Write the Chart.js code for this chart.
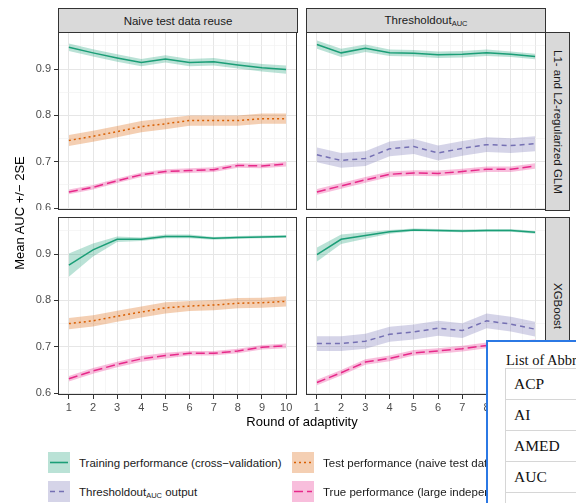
<!DOCTYPE html>
<html>
<head>
<meta charset="utf-8">
<script src="https://cdn.jsdelivr.net/npm/chart.js@4.4.1/dist/chart.umd.min.js"></script>
<style>
  body { margin: 0; width: 576px; height: 503px; overflow: hidden; background: #fff; position: relative;
         font-family: "Liberation Sans", Arial, sans-serif; }
  canvas { position: absolute; }
  .strip { position: absolute; background: #d9d9d9; border: 1px solid #333; box-sizing: border-box;
           color: #1a1a1a; font-size: 11.5px; display: flex; align-items: center; justify-content: center; }
  .vstrip { writing-mode: vertical-rl; }
  .strip sub { font-size: 7.5px; vertical-align: -2px; }
  .title { position: absolute; font-size: 13px; color: #000; text-align: center; line-height: 16px; white-space: nowrap; }
  .key { position: absolute; width: 22px; height: 21px; }
  .key svg { display: block; }
  .ltxt { position: absolute; font-size: 11.5px; color: #1a1a1a; line-height: 14px; white-space: nowrap; }
  .ltxt sub { font-size: 7.5px; vertical-align: -2px; }
  #overlay { position: absolute; left: 486px; top: 340px; width: 120px; height: 200px; background: #fff;
             border: 2px solid #2b78e4; box-sizing: border-box; font-family: "Liberation Serif", "Times New Roman", serif; }
  #overlay .cap { position: absolute; left: 18px; top: 10px; font-size: 14.5px; color: #111; white-space: nowrap; }
  #overlay table { position: absolute; left: 17px; top: 26px; border-collapse: collapse; width: 300px; }
  #overlay td { border: 1px solid #d6d6d6; height: 30px; padding: 0 0 0 8px; font-size: 15.5px; color: #111; }
</style>
</head>
<body>

<canvas id="glmNaive" width="297" height="178" style="left:0;top:32px"></canvas>
<canvas id="glmThr" width="240" height="178" style="left:306px;top:32px"></canvas>
<canvas id="xgbNaive" width="297" height="208" style="left:0;top:217px"></canvas>
<canvas id="xgbThr" width="240" height="208" style="left:306px;top:217px"></canvas>

<div class="strip" style="left:58px;top:8px;width:240px;height:25px"><span>Naive test data reuse</span></div>
<div class="strip" style="left:306px;top:8px;width:240px;height:25px"><span>Thresholdout<sub>AUC</sub></span></div>
<div class="strip vstrip" style="left:545px;top:32px;width:25px;height:179px">L1- and L2-regularized GLM</div>
<div class="strip vstrip" style="left:545px;top:217px;width:25px;height:179px">XGBoost</div>

<div class="title" style="left:-80px;top:205px;width:200px;transform:rotate(-90deg)">Mean AUC +/− 2SE</div>
<div class="title" style="left:202px;top:414px;width:200px">Round of adaptivity</div>

<div id="legend"></div>

<div id="overlay">
  <div class="cap">List of Abbreviations</div>
  <table>
    <tr><td>ACP</td></tr>
    <tr><td>AI</td></tr>
    <tr><td>AMED</td></tr>
    <tr><td>AUC</td></tr>
    <tr><td>CNN</td></tr>
  </table>
</div>

<script>
// rounds of adaptivity (x axis)
const rounds = [1, 2, 3, 4, 5, 6, 7, 8, 9, 10];
const xMajor = [1, 2, 3, 4, 5, 6, 7, 8, 9, 10];
const yMajor = [0.6, 0.7, 0.8, 0.9];
const yMinor = [0.65, 0.75, 0.85, 0.95];

// L1/L2 GLM - naive test data reuse
const glmNaiveTrain   = [0.947, 0.935, 0.924, 0.914, 0.922, 0.914, 0.916, 0.909, 0.903, 0.899];
const glmNaiveTrainSE = [0.008, 0.008, 0.008, 0.008, 0.008, 0.008, 0.008, 0.008, 0.008, 0.009];
const glmNaiveTest    = [0.746, 0.755, 0.765, 0.776, 0.782, 0.789, 0.789, 0.789, 0.793, 0.793];
const glmNaiveTestSE  = [0.012, 0.012, 0.012, 0.012, 0.012, 0.011, 0.011, 0.011, 0.011, 0.011];
const glmNaiveTrue    = [0.635, 0.645, 0.659, 0.672, 0.679, 0.681, 0.683, 0.692, 0.691, 0.695];
const glmNaiveTrueSE  = [0.005, 0.005, 0.005, 0.005, 0.005, 0.005, 0.005, 0.005, 0.005, 0.005];

// L1/L2 GLM - Thresholdout
const glmThrTrain   = [0.953, 0.935, 0.945, 0.935, 0.934, 0.931, 0.932, 0.935, 0.932, 0.927];
const glmThrTrainSE = [0.009, 0.009, 0.008, 0.007, 0.007, 0.007, 0.007, 0.007, 0.006, 0.006];
const glmThrOut     = [0.715, 0.703, 0.707, 0.728, 0.733, 0.719, 0.729, 0.737, 0.735, 0.739];
const glmThrOutSE   = [0.016, 0.016, 0.016, 0.016, 0.016, 0.016, 0.016, 0.016, 0.016, 0.016];
const glmThrTrue    = [0.635, 0.648, 0.661, 0.673, 0.676, 0.675, 0.679, 0.684, 0.684, 0.691];
const glmThrTrueSE  = [0.006, 0.006, 0.006, 0.006, 0.006, 0.006, 0.006, 0.006, 0.006, 0.006];

// XGBoost - naive test data reuse
const xgbNaiveTrain   = [0.876, 0.909, 0.932, 0.932, 0.938, 0.938, 0.934, 0.936, 0.937, 0.938];
const xgbNaiveTrainSE = [0.025, 0.014, 0.006, 0.004, 0.004, 0.004, 0.003, 0.003, 0.003, 0.003];
const xgbNaiveTest    = [0.750, 0.756, 0.766, 0.775, 0.784, 0.788, 0.790, 0.794, 0.795, 0.798];
const xgbNaiveTestSE  = [0.012, 0.012, 0.012, 0.012, 0.012, 0.011, 0.011, 0.011, 0.011, 0.011];
const xgbNaiveTrue    = [0.631, 0.648, 0.662, 0.674, 0.681, 0.686, 0.686, 0.691, 0.699, 0.702];
const xgbNaiveTrueSE  = [0.006, 0.006, 0.006, 0.006, 0.006, 0.005, 0.005, 0.005, 0.005, 0.005];

// XGBoost - Thresholdout
const xgbThrTrain   = [0.899, 0.932, 0.940, 0.948, 0.952, 0.951, 0.950, 0.951, 0.951, 0.947];
const xgbThrTrainSE = [0.015, 0.010, 0.007, 0.004, 0.003, 0.003, 0.003, 0.003, 0.003, 0.003];
const xgbThrOut     = [0.707, 0.707, 0.712, 0.727, 0.732, 0.740, 0.735, 0.756, 0.749, 0.738];
const xgbThrOutSE   = [0.016, 0.016, 0.016, 0.016, 0.016, 0.016, 0.016, 0.016, 0.016, 0.016];
const xgbThrTrue    = [0.623, 0.644, 0.667, 0.675, 0.687, 0.691, 0.696, 0.703, 0.706, 0.710];
const xgbThrTrueSE  = [0.006, 0.006, 0.006, 0.006, 0.006, 0.006, 0.006, 0.006, 0.006, 0.006];

const colTrain = "#1b9e77", colTest = "#d95f02", colThr = "#7570b3", colTrue = "#e7298a";
const dashTrain = [], dashTest = [2, 3], dashThr = [5, 4], dashTrue = [9, 4];

function fade(hex, a) {
  const n = parseInt(hex.slice(1), 16);
  return `rgba(${n >> 16},${(n >> 8) & 255},${n & 255},${a})`;
}

// three datasets per series: lower bound, upper bound (filled to lower), mean line
function serie(means, se, color, dash) {
  const pts = (f) => rounds.map((r, i) => ({ x: r, y: f(i) }));
  return [
    { data: pts(i => means[i] - se[i]), borderWidth: 0, pointRadius: 0, fill: false, order: 1 },
    { data: pts(i => means[i] + se[i]), borderWidth: 0, pointRadius: 0, fill: "-1",
      backgroundColor: fade(color, 0.3), order: 1 },
    { data: pts(i => means[i]), borderColor: color, borderWidth: 1.5, borderDash: dash,
      pointRadius: 0, fill: false, tension: 0, order: 0 }
  ];
}

const frame = {
  id: "frame",
  afterDraw(chart) {
    const a = chart.chartArea, c = chart.ctx;
    c.save();
    c.strokeStyle = "#333";
    c.lineWidth = 1;
    c.strokeRect(Math.round(a.left) + 0.5, Math.round(a.top) + 0.5,
                 Math.round(a.right - a.left) - 1, Math.round(a.bottom - a.top) - 1);
    c.restore();
  }
};

const isMajorX = v => xMajor.includes(v);
const isMajorY = v => yMajor.some(m => Math.abs(m - v) < 1e-6);

function panel(id, datasets, showX, showY) {
  new Chart(document.getElementById(id), {
    type: "line",
    data: { datasets: datasets },
    plugins: [frame],
    options: {
      responsive: false,
      animation: false,
      layout: { padding: 0 },
      plugins: { legend: { display: false }, tooltip: { enabled: false } },
      scales: {
        x: {
          type: "linear", min: 0.55, max: 10.45,
          afterBuildTicks(s) {
            const t = [];
            for (let v = 1; v <= 10; v += 0.5) t.push({ value: v });
            s.ticks = t;
          },
          afterFit(s) { s.height = showX ? 30 : 0; s.paddingLeft = 0; s.paddingRight = 0; },
          border: { display: false },
          grid: {
            color: c => isMajorX(c.tick.value) ? "#e6e6e6" : "#f0f0f0",
            lineWidth: c => isMajorX(c.tick.value) ? 1 : 0.6,
            drawTicks: showX, tickLength: 4,
            tickColor: c => isMajorX(c.tick.value) ? "#333" : "rgba(0,0,0,0)"
          },
          ticks: {
            display: showX, autoSkip: false, maxRotation: 0, padding: 2,
            color: "#4d4d4d", font: { family: "Liberation Sans", size: 11 },
            callback: v => isMajorX(v) ? String(v) : ""
          }
        },
        y: {
          type: "linear", min: 0.596, max: 0.98,
          afterBuildTicks(s) {
            s.ticks = yMajor.concat(yMinor).sort((a, b) => a - b).map(v => ({ value: v }));
          },
          afterFit(s) { s.width = showY ? 58 : 0; s.paddingTop = 0; s.paddingBottom = 0; },
          border: { display: false },
          grid: {
            color: c => isMajorY(c.tick.value) ? "#e6e6e6" : "#f0f0f0",
            lineWidth: c => isMajorY(c.tick.value) ? 1 : 0.6,
            drawTicks: showY, tickLength: 4,
            tickColor: c => isMajorY(c.tick.value) ? "#333" : "rgba(0,0,0,0)"
          },
          ticks: {
            display: showY, autoSkip: false, padding: 3,
            color: "#4d4d4d", font: { family: "Liberation Sans", size: 11 },
            callback: v => isMajorY(v) ? v.toFixed(1) : ""
          }
        }
      }
    }
  });
}

panel("glmNaive", [
  ...serie(glmNaiveTrain, glmNaiveTrainSE, colTrain, dashTrain),
  ...serie(glmNaiveTest, glmNaiveTestSE, colTest, dashTest),
  ...serie(glmNaiveTrue, glmNaiveTrueSE, colTrue, dashTrue)
], false, true);

panel("glmThr", [
  ...serie(glmThrTrain, glmThrTrainSE, colTrain, dashTrain),
  ...serie(glmThrOut, glmThrOutSE, colThr, dashThr),
  ...serie(glmThrTrue, glmThrTrueSE, colTrue, dashTrue)
], false, false);

panel("xgbNaive", [
  ...serie(xgbNaiveTrain, xgbNaiveTrainSE, colTrain, dashTrain),
  ...serie(xgbNaiveTest, xgbNaiveTestSE, colTest, dashTest),
  ...serie(xgbNaiveTrue, xgbNaiveTrueSE, colTrue, dashTrue)
], true, true);

panel("xgbThr", [
  ...serie(xgbThrTrain, xgbThrTrainSE, colTrain, dashTrain),
  ...serie(xgbThrOut, xgbThrOutSE, colThr, dashThr),
  ...serie(xgbThrTrue, xgbThrTrueSE, colTrue, dashTrue)
], true, false);

// shared legend below the panels
const legendItems = [
  { label: "Training performance (cross−validation)", color: colTrain, dash: dashTrain, x: 48, y: 452 },
  { label: "Test performance (naive test data reuse)", color: colTest, dash: dashTest, x: 292, y: 452 },
  { label: "Thresholdout<sub>AUC</sub> output", color: colThr, dash: dashThr, x: 48, y: 481 },
  { label: "True performance (large independent dataset)", color: colTrue, dash: dashTrue, x: 292, y: 481 }
];
const legendDiv = document.getElementById("legend");
legendItems.forEach(it => {
  const k = document.createElement("div");
  k.className = "key";
  k.style.left = it.x + "px";
  k.style.top = it.y + "px";
  k.style.background = fade(it.color, 0.3);
  k.innerHTML = `<svg width="22" height="21"><line x1="2" y1="10.5" x2="20" y2="10.5" stroke="${it.color}"
    stroke-width="1.6" stroke-dasharray="${it.dash.join(",")}"/></svg>`;
  legendDiv.appendChild(k);
  const t = document.createElement("div");
  t.className = "ltxt";
  t.style.left = (it.x + 31) + "px";
  t.style.top = (it.y + 4) + "px";
  t.innerHTML = it.label;
  legendDiv.appendChild(t);
});
</script>
</body>
</html>
